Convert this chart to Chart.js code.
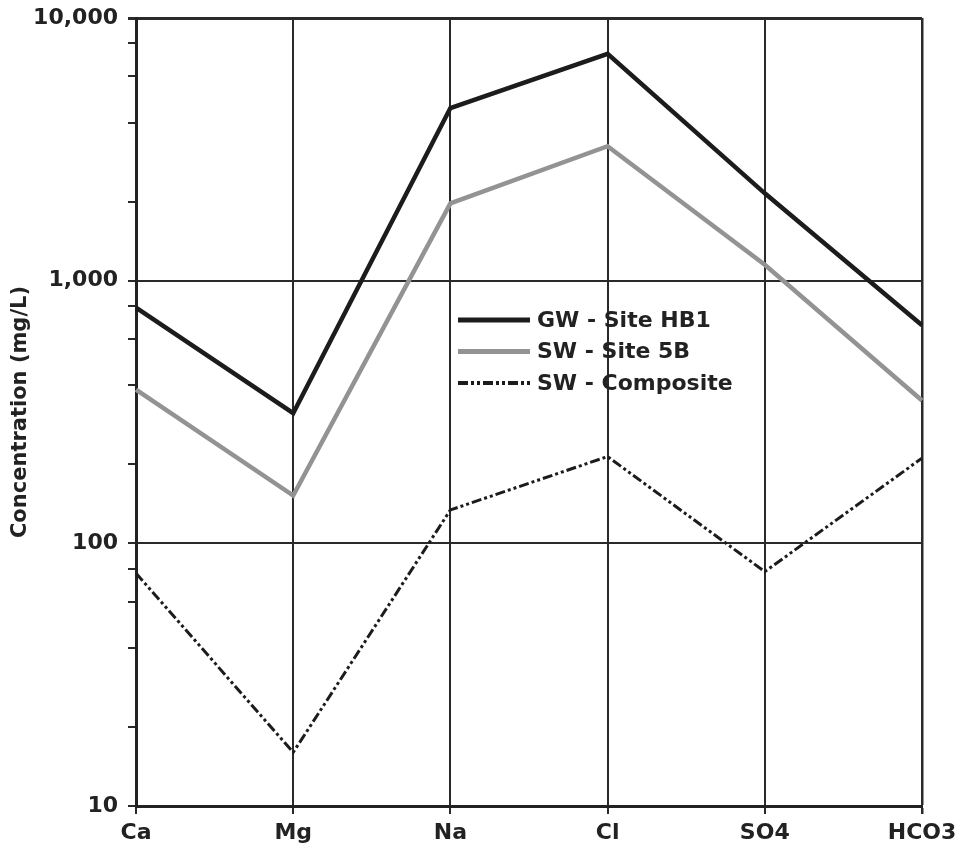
<!DOCTYPE html>
<html>
<head>
<meta charset="utf-8">
<script src="https://cdn.jsdelivr.net/npm/chart.js@4"></script>
<style>
  html, body { margin: 0; padding: 0; background: #fff; }
  #wrap { width: 959px; height: 849px; }
</style>
</head>
<body>
<div id="wrap"><canvas id="lineChart"></canvas></div>
<script>
// categories and values (mg/L)
const ions = ['Ca', 'Mg', 'Na', 'Cl', 'SO4', 'HCO3'];
const gwHB1 = [790, 313, 4540, 7300, 2150, 676];
const sw5B = [385, 152, 1970, 3250, 1150, 350];
const swComposite = [77, 16, 134, 214, 78, 211];

// y ticks: decades labelled, 2/4/6/8 as small marks
const majorTicks = [10, 100, 1000, 10000];
const minorTicks = [20, 40, 60, 80, 200, 400, 600, 800, 2000, 4000, 6000, 8000];

const FONT = 'DejaVu Sans';

// draws the legend box inside the plot, like the original
const insideLegend = {
    id: 'insideLegend',
    afterDatasetsDraw(chart) {
        const ctx = chart.ctx;
        const x0 = 458, x1 = 530, y0 = 320, step = 31.5;
        ctx.save();
        chart.data.datasets.forEach((ds, i) => {
            const y = y0 + i * step;
            ctx.beginPath();
            ctx.strokeStyle = ds.borderColor;
            ctx.lineWidth = ds.legendWidth || ds.borderWidth;
            ctx.setLineDash(ds.borderDash || []);
            ctx.moveTo(x0, y);
            ctx.lineTo(x1, y);
            ctx.stroke();
            ctx.setLineDash([]);
            ctx.fillStyle = '#222';
            ctx.font = 'bold 22px "' + FONT + '"';
            ctx.textBaseline = 'middle';
            ctx.fillText(ds.label, x1 + 7, y + 1);
        });
        ctx.restore();
    }
};

const ctx = document.getElementById('lineChart').getContext('2d');
const lineChart = new Chart(ctx, {
    type: 'line',
    data: {
        labels: ions,
        datasets: [
            {
                label: 'GW - Site HB1',
                data: gwHB1,
                borderColor: '#1c1c1c',
                borderWidth: 4.5,
                legendWidth: 5,
                pointRadius: 0,
                tension: 0
            },
            {
                label: 'SW - Site 5B',
                data: sw5B,
                borderColor: '#939393',
                borderWidth: 4.5,
                legendWidth: 5,
                pointRadius: 0,
                tension: 0
            },
            {
                label: 'SW - Composite',
                data: swComposite,
                borderColor: '#1c1c1c',
                borderWidth: 3,
                legendWidth: 4,
                borderDash: [10, 3, 3, 3, 3, 3],
                pointRadius: 0,
                tension: 0
            }
        ]
    },
    options: {
        responsive: true,
        maintainAspectRatio: false,
        animation: false,
        layout: { padding: { top: 18, right: 37, left: 0, bottom: 0 } },
        plugins: {
            legend: { display: false },
            tooltip: { enabled: false }
        },
        scales: {
            x: {
                type: 'category',
                offset: false,
                afterFit: (scale) => {
                    scale.height = 43;
                    scale.paddingLeft = 0;
                    scale.paddingRight = 0;
                },
                border: { color: '#222', width: 3 },
                grid: {
                    color: '#2a2a2a',
                    lineWidth: (c) => (c.index === ions.length - 1 ? 2.5 : 2),
                    tickLength: 8,
                    tickColor: '#2a2a2a'
                },
                ticks: {
                    color: '#222',
                    padding: 6,
                    maxRotation: 0,
                    font: { family: FONT, size: 22, weight: 'bold' }
                }
            },
            y: {
                type: 'logarithmic',
                min: 10,
                max: 10000,
                afterFit: (scale) => {
                    scale.width = 136;
                    scale.paddingTop = 0;
                    scale.paddingBottom = 0;
                },
                afterBuildTicks: (scale) => {
                    scale.ticks = majorTicks.concat(minorTicks)
                        .sort((a, b) => a - b)
                        .map(v => ({ value: v, major: majorTicks.includes(v) }));
                },
                border: { color: '#222', width: 3 },
                grid: {
                    color: (c) => (majorTicks.includes(c.tick && c.tick.value) ? '#2a2a2a' : 'rgba(0,0,0,0)'),
                    lineWidth: (c) => (c.tick && c.tick.value === 10000 ? 3 : 2),
                    tickLength: 8,
                    tickColor: '#2a2a2a'
                },
                ticks: {
                    color: '#222',
                    padding: 10,
                    autoSkip: false,
                    font: { family: FONT, size: 22, weight: 'bold' },
                    callback: (v) => (majorTicks.includes(v) ? v.toLocaleString('en-US') : '')
                },
                title: {
                    display: true,
                    text: 'Concentration (mg/L)',
                    color: '#222',
                    padding: { top: 8, bottom: 0 },
                    font: { family: FONT, size: 21, weight: 'bold' }
                }
            }
        }
    },
    plugins: [insideLegend]
});
</script>
</body>
</html>
